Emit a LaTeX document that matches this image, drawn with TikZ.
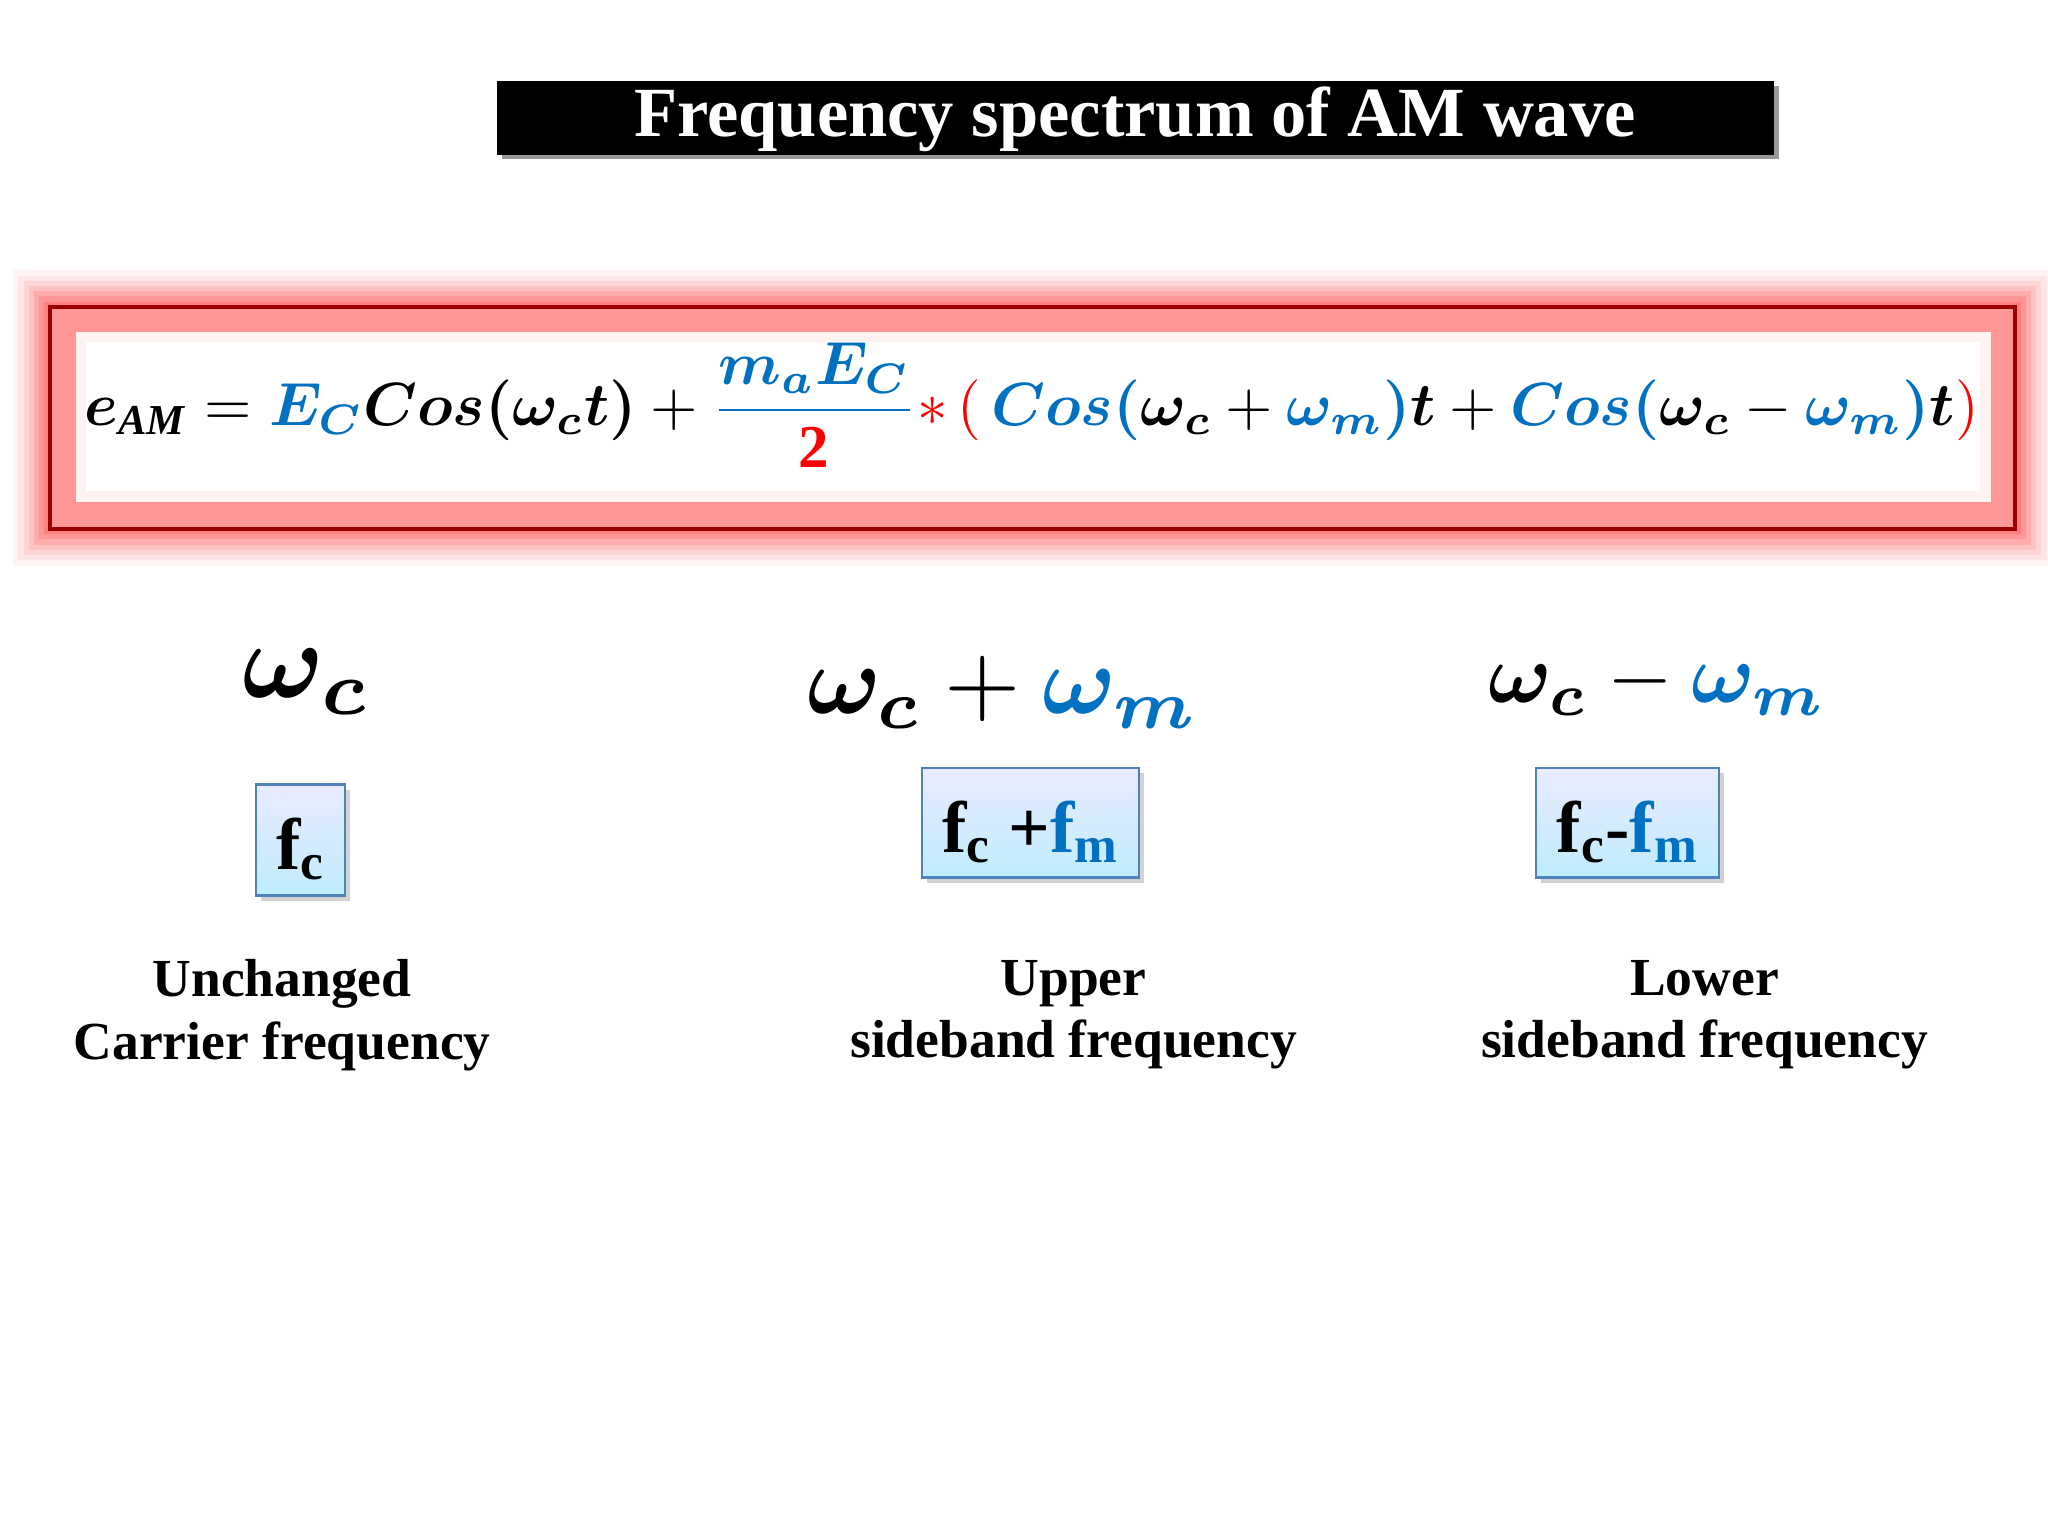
\documentclass[tikz,border=0pt]{standalone}
\usepackage{amsmath,bm}
\usepackage{fontspec}
\setmainfont{Liberation Serif}
\usetikzlibrary{shadows,fadings}
\definecolor{eqblue}{RGB}{0,112,192}
\definecolor{boxblue}{RGB}{79,129,189}
\begin{document}
\begin{tikzpicture}[x=0.5pt,y=-0.5pt,
  fbox/.style={draw=boxblue,line width=1pt,top color=blue!8,bottom color=blue!30!cyan!25,drop shadow={opacity=0.35,shadow xshift=2pt,shadow yshift=-2pt}},
  lbl/.style={align=center,font=\fontsize{20.5}{24}\selectfont\bfseries}]
\useasboundingbox (0,0) rectangle (1568,1176);
\fill[white] (0,0) rectangle (1568,1176);
% title
\fill[black!40] (384,66) rectangle (1362,122);
\node[fill=black,minimum width=489pt,minimum height=28pt,anchor=north west,inner sep=0] (title) at (380,62) {};
\node[text=white,font=\fontsize{27}{30}\selectfont\bfseries] (tt) at (869,91) {Frequency spectrum of AM wave};
% glow
\foreach \i/\o in {28/0.06,24/0.08,20/0.1,16/0.14,12/0.18,8/0.24,4/0.3}{
  \fill[red!60!pink,opacity=\o] (38-\i,235-\i) rectangle (1543+\i,405+\i);}
\fill[red!35!pink!80] (38,235) rectangle (1543,405);
\draw[red!60!black,line width=1.5pt] (38,235) rectangle (1543,405);
\fill[white!80!pink] (58,254) rectangle (1524,384);
\fill[white] (66,262) rectangle (1516,376);
\node (eq) at (790,310) {\resizebox{725pt}{!}{$\bm{e_{\mathit{AM}}} = \color{eqblue}\bm{E_C}\color{black}\bm{Cos(\omega_c t)} + \color{eqblue}\dfrac{\color{eqblue}\bm{m_a E_C}}{\color{red}\mathbf{2}} \color{red}{*}\,(\,\color{eqblue}\bm{Cos(}\color{black}\bm{\omega_c}+\color{eqblue}\bm{\omega_m)}\color{black}\bm{t}+\color{eqblue}\bm{Cos(}\color{black}\bm{\omega_c}-\color{eqblue}\bm{\omega_m)}\color{black}\bm{t}\color{red})$}};
% omegas
\node (w1) at (235,522) {\resizebox{49pt}{!}{$\bm{\omega_c}$}};
\node (w2) at (768,530) {\resizebox{150pt}{!}{$\bm{\omega_c}+\color{eqblue}\bm{\omega_m}$}};
\node (w3) at (1269,524) {\resizebox{129pt}{!}{$\bm{\omega_c}-\color{eqblue}\bm{\omega_m}$}};
% boxes
\node[fbox,minimum width=34pt,minimum height=42.5pt,inner sep=0] (b1) at (230,643) {};
\node[font=\fontsize{28}{30}\selectfont\bfseries] at (230,650) {f\textsubscript{c}};
\node[fbox,minimum width=83pt,minimum height=42pt,inner sep=0] (b2) at (789,630) {};
\node[font=\fontsize{28}{30}\selectfont\bfseries] at (789,637) {f\textsubscript{c} +\textcolor{eqblue}{f\textsubscript{m}}};
\node[fbox,minimum width=70pt,minimum height=42pt,inner sep=0] (b3) at (1246,630) {};
\node[font=\fontsize{28}{30}\selectfont\bfseries] at (1246,637) {f\textsubscript{c}-\textcolor{eqblue}{f\textsubscript{m}}};
% labels
\node[lbl] (l1) at (216,777) {Unchanged\\Carrier frequency};
\node[lbl] (l2) at (822,777) {Upper\\sideband frequency};
\node[lbl] (l3) at (1305,777) {Lower\\sideband frequency};
\end{tikzpicture}
\end{document}
